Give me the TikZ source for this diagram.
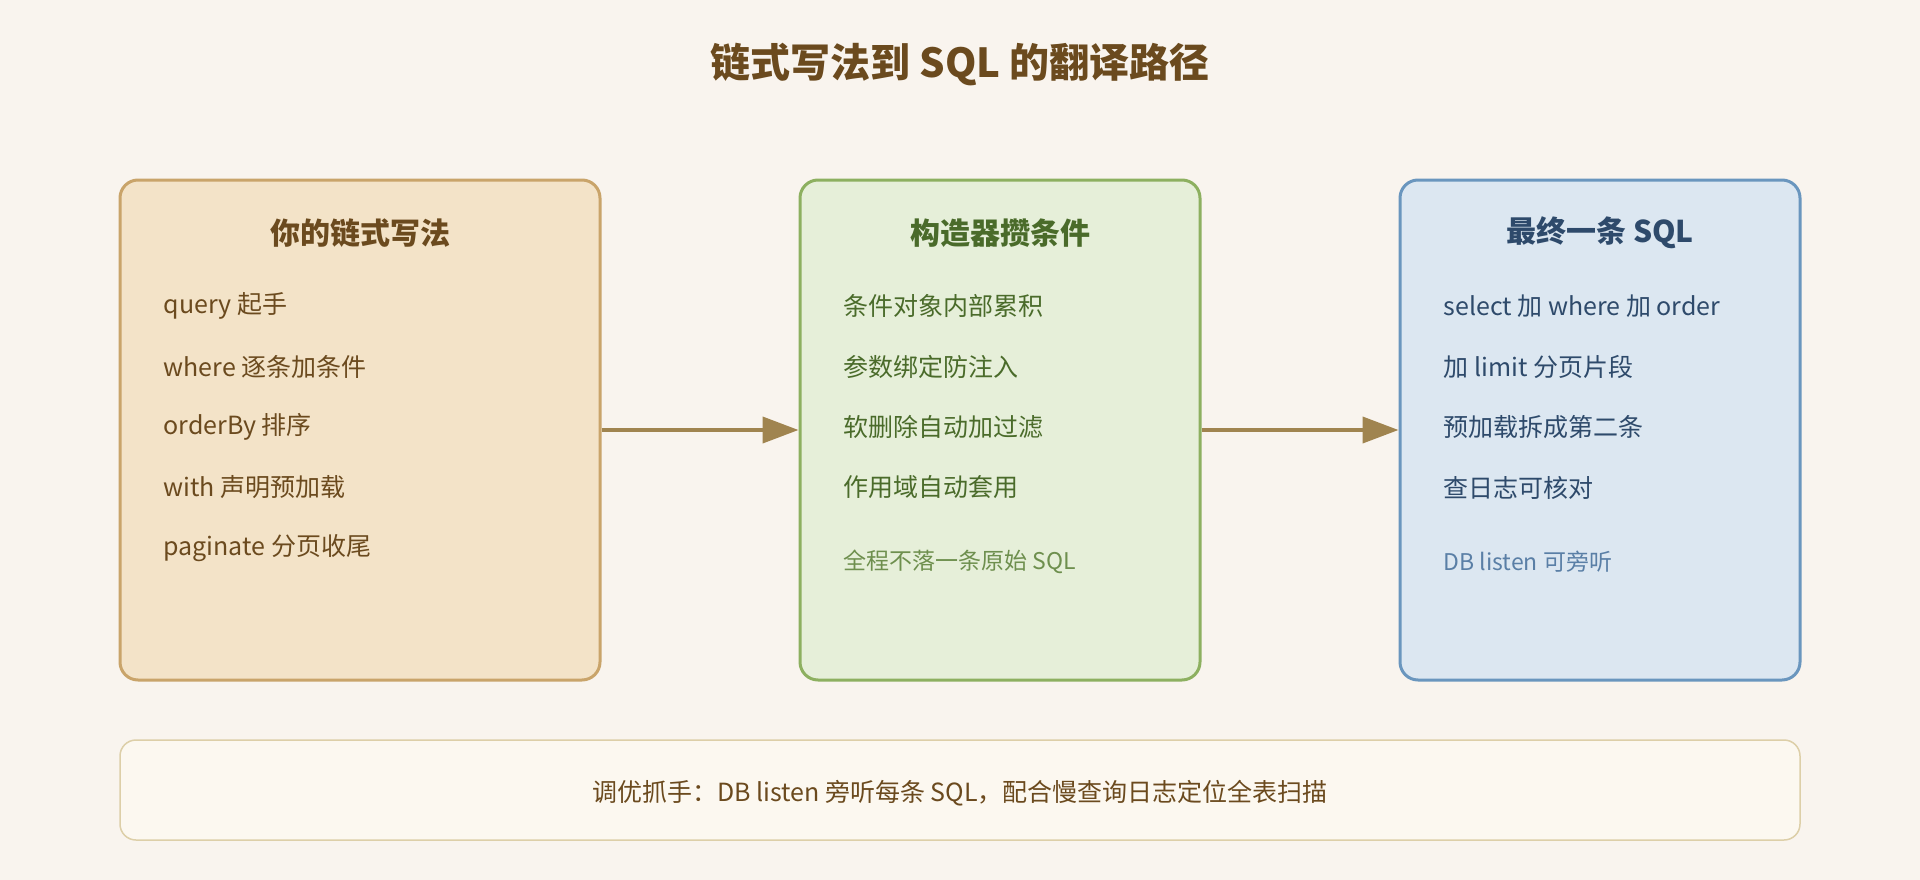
\documentclass[tikz,border=0pt]{standalone}
\usepackage{fontspec}
\setmainfont{Noto Sans CJK SC}
\usetikzlibrary{arrows.meta}
\definecolor{bg}{HTML}{F9F4EE}
\definecolor{fA}{HTML}{F3E3C8}\definecolor{dA}{HTML}{C9A46A}\definecolor{tA}{HTML}{6B4A1E}
\definecolor{fB}{HTML}{E6EFD9}\definecolor{dB}{HTML}{8DB060}\definecolor{tB}{HTML}{4A6B2A}\definecolor{nB}{HTML}{6E8F4E}
\definecolor{fC}{HTML}{DCE7F1}\definecolor{dC}{HTML}{6A96BE}\definecolor{tC}{HTML}{2E4A6B}\definecolor{nC}{HTML}{5A7FA6}
\definecolor{arr}{HTML}{A0844F}\definecolor{fN}{HTML}{FCF8F0}\definecolor{dN}{HTML}{DDCFA8}
\tikzset{
 box/.style={rounded corners=18pt,line width=3pt},
 ttl/.style={font=\fontsize{30}{36}\selectfont\bfseries},
 itm/.style={anchor=west,font=\fontsize{25}{30}\selectfont},
 nt/.style={anchor=west,font=\fontsize{23}{28}\selectfont},
 con/.style={line width=4pt,color=arr,-{Triangle[length=36pt,width=26pt]}}
}
\begin{document}
\begin{tikzpicture}[x=1pt,y=-1pt]
\fill[bg] (0,0) rectangle (1920,880);
\useasboundingbox (0,0) rectangle (1920,880);
\node[font=\fontsize{40}{48}\selectfont\bfseries,text=tA] (title) at (960,65) {链式写法到 SQL 的翻译路径};
\node[box,draw=dA,fill=fA,minimum width=480pt,minimum height=500pt] (A) at (360,430) {};
\node[box,draw=dB,fill=fB,minimum width=400pt,minimum height=500pt] (B) at (1000,430) {};
\node[box,draw=dC,fill=fC,minimum width=400pt,minimum height=500pt] (C) at (1600,430) {};
\node[ttl,text=tA] (At) at (360,233) {你的链式写法};
\node[ttl,text=tB] (Bt) at (1000,233) {构造器攒条件};
\node[ttl,text=tC] (Ct) at (1600,233) {最终一条 SQL};
\foreach \t [count=\i] in {query 起手,where 逐条加条件,orderBy 排序,with 声明预加载,paginate 分页收尾}
  \node[itm,text=tA] (a\i) at (160,{306+60.5*(\i-1)}) {\t};
\foreach \t [count=\i] in {条件对象内部累积,参数绑定防注入,软删除自动加过滤,作用域自动套用}
  \node[itm,text=tB] (b\i) at (840,{306+60.5*(\i-1)}) {\t};
\node[nt,text=nB] (bn) at (840,562) {全程不落一条原始 SQL};
\foreach \t [count=\i] in {select 加 where 加 order,加 limit 分页片段,预加载拆成第二条,查日志可核对}
  \node[itm,text=tC] (c\i) at (1440,{306+60.5*(\i-1)}) {\t};
\node[nt,text=nC] (cn) at (1440,562) {DB listen 可旁听};
\draw[con] (A.east) -- (B.west);
\draw[con] (B.east) -- (C.west);
\node[rounded corners=16pt,draw=dN,line width=1.5pt,fill=fN,minimum width=1680pt,minimum height=100pt] (N) at (960,790) {};
\node[font=\fontsize{25}{30}\selectfont,text=tA] (Nt) at (960,793) {调优抓手：DB listen 旁听每条 SQL，配合慢查询日志定位全表扫描};
\end{tikzpicture}
\end{document}
